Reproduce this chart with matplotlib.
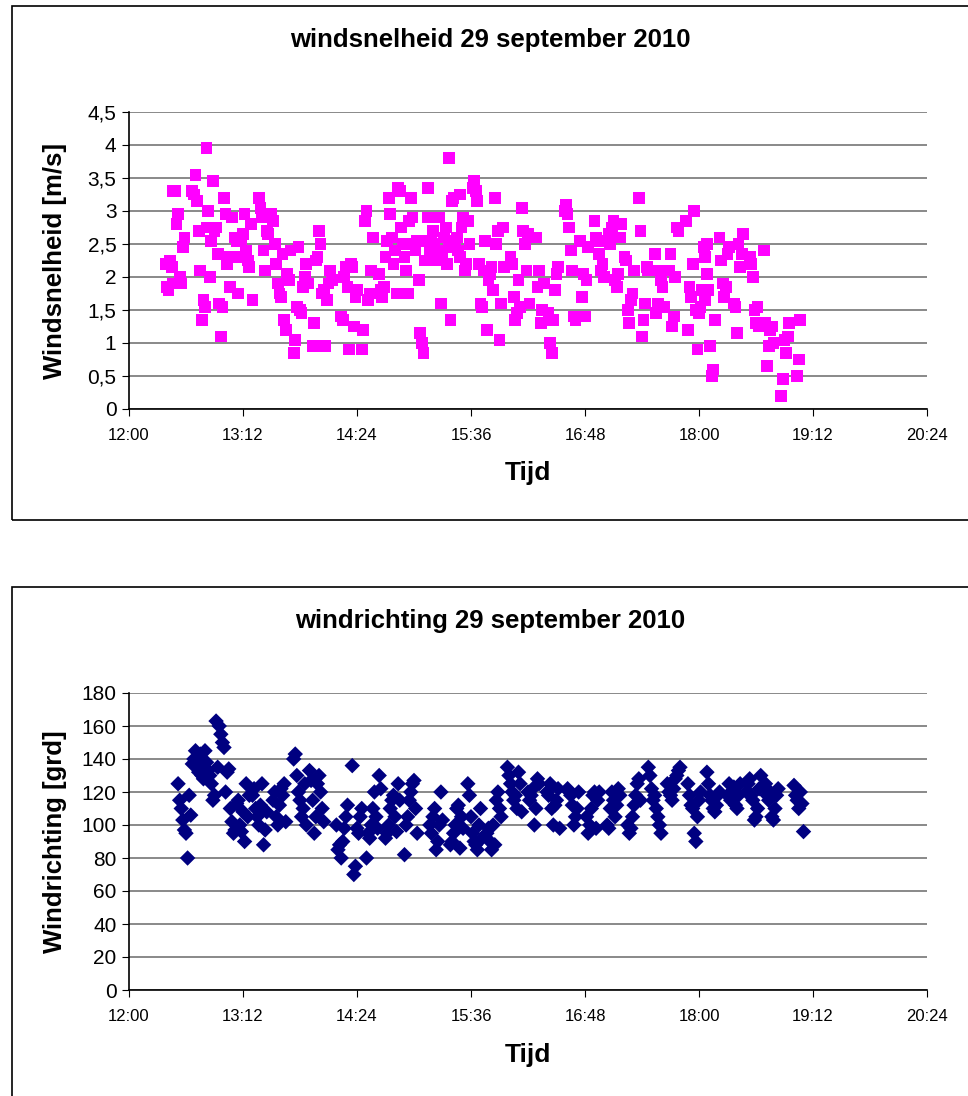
"""
Windsnelheid en windrichting op 29 september 2010 (twee Excel-achtige spreidingsgrafieken).
"""
import matplotlib
matplotlib.use('Agg')
import matplotlib.pyplot as plt
from matplotlib.patches import Rectangle

plt.rcParams['font.family'] = ['Liberation Sans', 'DejaVu Sans']

# tijd in minuten na 12:00
speed_min = [
    23, 24, 25, 26, 27, 28,
    28, 29, 30, 31, 32, 33, 34, 35,
    40, 41, 42, 43, 44, 45, 46, 47, 48, 49,
    49, 50, 51, 52,
    53, 54, 55, 56, 57, 58, 59,
    60, 61, 62, 63, 64, 65,
    67, 68, 69, 70, 71, 72,
    73, 74, 75, 76, 77, 78,
    82, 83, 84, 85, 86, 87, 88,
    90, 91, 92, 93, 94, 95, 96, 97,
    98, 99, 100, 101, 102,
    104, 105, 106, 107, 108, 109, 110, 111, 112, 113,
    116, 117, 118, 119, 120, 121, 122, 123,
    124, 125, 126, 127, 128,
    134, 135, 136, 137, 138,
    139, 140, 141, 142, 143, 144,
    147, 148, 149, 150, 151, 152, 153, 154,
    158, 159, 160, 161, 162, 163,
    164, 165, 166, 167, 168, 169,
    170, 171, 172, 173, 174, 175, 176, 177,
    178, 179, 180, 181, 182, 183,
    184, 185, 186, 187, 188, 189,
    189, 190, 191, 192, 193, 194, 195, 196,
    197, 198, 199, 200, 201, 202,
    202, 203, 204, 205, 206, 207, 208, 209,
    209, 210, 211, 212, 213, 214, 215,
    217, 218, 219, 220, 221, 222, 223, 224,
    225, 226, 227, 228, 229, 230,
    231, 232, 233, 234, 235, 236, 237,
    241, 242, 243, 244, 245, 246, 247,
    248, 249, 250, 251, 252, 253,
    257, 258, 259, 260, 261, 262,
    265, 266, 267, 268, 269, 270, 271,
    275, 276, 277, 278, 279, 280, 281, 282,
    285, 286, 287, 288, 289, 290,
    294, 295, 296, 297, 298, 299, 300,
    303, 304, 305, 306, 307, 308, 309, 310, 311,
    313, 314, 315, 316, 317, 318, 319,
    322, 323, 324, 325, 326, 327, 328,
    332, 333, 334, 335, 336, 337, 338,
    341, 342, 343, 344, 345, 346, 347,
    352, 353, 354, 355, 356,
    357, 358, 359, 360, 361, 362, 363, 364, 365,
    364, 365, 366, 367, 368, 369, 370,
    373, 374, 375, 376, 377, 378, 379,
    382, 383, 384, 385, 386, 387, 388,
    392, 393, 394, 395, 396, 397, 398,
    401, 402, 403, 404, 405, 406, 407,
    412, 413, 414, 415, 416, 417,
    422, 423, 424,
]
speed_val = [
    2.2, 1.85, 1.8, 2.25, 2.15, 1.9,
    3.3, 3.3, 2.8, 2.95, 2.0, 1.9, 2.45, 2.6,
    3.3, 3.25, 3.55, 3.15, 2.7, 2.1, 1.35, 1.65, 1.55, 2.75,
    3.95, 3.0, 2.0, 2.55,
    3.45, 2.7, 2.75, 2.35, 1.6, 1.1, 1.55,
    3.2, 2.95, 2.2, 2.3, 1.85, 2.9,
    2.6, 2.55, 1.75, 2.3, 2.55, 2.65,
    2.95, 2.4, 2.25, 2.15, 2.8, 1.65,
    3.2, 3.05, 2.9, 2.4, 2.1, 2.7, 2.65,
    2.95, 2.85, 2.5, 2.2, 1.9, 1.75, 1.7, 2.35,
    1.35, 1.2, 2.05, 1.95, 2.4,
    0.85, 1.05, 1.55, 2.45, 1.5, 1.45, 1.85, 2.0, 2.2, 1.9,
    0.95, 1.3, 2.25, 2.3, 2.7, 2.5, 1.75, 1.8,
    0.95, 1.65, 1.9, 2.1, 1.95,
    1.4, 1.35, 2.0, 2.15, 1.85,
    0.9, 2.2, 2.15, 1.25, 1.7, 1.8,
    0.9, 1.2, 2.85, 3.0, 1.65, 1.75, 2.1, 2.6,
    2.05, 1.8, 1.7, 1.85, 2.3, 2.55,
    3.2, 2.95, 2.6, 2.2, 2.4, 1.75,
    3.35, 3.3, 2.75, 2.5, 2.3, 2.1, 1.75, 2.85,
    3.2, 2.9, 2.5, 2.4, 2.55, 1.95,
    1.15, 1.0, 0.85, 2.25, 2.55, 2.9,
    3.35, 2.4, 2.55, 2.7, 2.5, 2.25, 2.4, 2.9,
    1.6, 2.3, 2.6, 2.75, 2.2, 2.45,
    3.8, 1.35, 3.15, 3.2, 2.55, 2.6, 2.4, 2.3,
    3.25, 2.75, 2.9, 2.1, 2.2, 2.85, 2.5,
    3.35, 3.45, 3.3, 3.15, 2.2, 1.6, 1.55, 2.1,
    2.55, 1.2, 1.95, 2.05, 2.15, 1.8,
    3.2, 2.5, 2.7, 1.05, 1.6, 2.75, 2.15,
    2.3, 2.2, 1.7, 1.35, 1.45, 1.95, 1.55,
    3.05, 2.7, 2.5, 2.1, 2.65, 1.6,
    2.6, 1.85, 2.1, 1.3, 1.5, 1.9,
    1.45, 1.0, 0.85, 1.35, 1.8, 2.05, 2.15,
    3.0, 3.1, 2.95, 2.75, 2.4, 2.1, 1.4, 1.35,
    2.55, 1.7, 2.05, 1.4, 1.95, 2.45,
    2.85, 2.6, 2.55, 2.35, 2.1, 2.2, 2.0,
    2.65, 2.5, 2.75, 2.85, 1.95, 1.85, 2.05, 2.6, 2.8,
    2.3, 2.25, 1.5, 1.3, 1.65, 1.75, 2.1,
    3.2, 2.7, 1.1, 1.35, 1.6, 2.15, 2.1,
    2.35, 1.45, 1.6, 2.1, 1.95, 1.85, 1.55,
    2.1, 2.35, 1.25, 1.4, 2.0, 2.75, 2.7,
    2.85, 1.2, 1.85, 1.7, 2.2,
    3.0, 1.5, 0.9, 1.45, 1.55, 1.8, 2.45, 2.3, 2.5,
    1.65, 2.05, 1.8, 0.95, 0.5, 0.6, 1.35,
    2.6, 2.25, 1.9, 1.7, 1.85, 2.35, 2.45,
    1.6, 1.55, 1.15, 2.5, 2.15, 2.35, 2.65,
    2.3, 2.2, 2.0, 1.5, 1.3, 1.55, 1.25,
    2.4, 1.3, 0.65, 0.95, 1.2, 1.25, 1.0,
    0.2, 0.45, 1.05, 0.85, 1.1, 1.3,
    0.5, 0.75, 1.35,
]

dir_min = [
    31, 32, 33, 34, 35, 36, 37, 38, 39,
    40, 41, 42, 43, 44, 45, 46, 47, 48,
    48, 49, 50, 51, 52, 53, 54, 55, 56,
    57, 58, 59, 60, 61, 62, 63, 64, 65, 66, 67,
    68, 69, 70, 71, 72, 73, 74, 75, 76,
    78, 79, 80, 81, 82, 83, 84, 85, 86, 87,
    91, 92, 93, 94, 95, 96, 97, 98, 99,
    104, 105, 106, 107, 108, 109, 110, 111, 112,
    114, 115, 116, 117, 118, 119, 120, 121, 122, 123,
    131, 132, 133, 134, 135, 136, 137, 138,
    141, 142, 143, 144, 145, 146, 147,
    150, 151, 152, 153, 154, 155, 156, 157, 158, 159,
    162, 163, 164, 165, 166, 167, 168, 169, 170, 171,
    174, 175, 176, 177, 178, 179, 180, 181, 182,
    190, 191, 192, 193, 194, 195, 196, 197, 198,
    203, 204, 205, 206, 207, 208, 209, 210, 211,
    214, 215, 216, 217, 218, 219, 220, 221, 222, 223,
    226, 227, 228, 229, 230, 231, 232, 233, 234, 235,
    239, 240, 241, 242, 243, 244, 245, 246, 247, 248,
    252, 253, 254, 255, 256, 257, 258, 259,
    264, 265, 266, 267, 268, 269, 270, 271, 272,
    277, 278, 279, 280, 281, 282, 283, 284,
    289, 290, 291, 292, 293, 294, 295, 296, 297,
    302, 303, 304, 305, 306, 307, 308, 309, 310,
    315, 316, 317, 318, 319, 320, 321, 322, 323,
    328, 329, 330, 331, 332, 333, 334, 335, 336,
    340, 341, 342, 343, 344, 345, 346, 347, 348,
    353, 354, 355, 356, 357, 358, 359, 360, 361,
    365, 366, 367, 368, 369, 370, 371, 372, 373,
    378, 379, 380, 381, 382, 383, 384, 385, 386,
    390, 391, 392, 393, 394, 395, 396, 397, 398, 399,
    402, 403, 404, 405, 406, 407, 408, 409, 410,
    420, 421, 422, 423, 424, 425, 426,
]
dir_val = [
    125, 115, 110, 103, 97, 95, 80, 118, 106,
    137, 140, 145, 135, 132, 143, 130, 128, 138,
    145, 138, 133, 130, 125, 115, 118, 163, 135,
    160, 155, 150, 147, 120, 132, 134, 110, 102, 95, 97,
    113, 115, 100, 96, 108, 90, 125, 105, 118,
    118, 122, 110, 105, 100, 112, 125, 88, 97, 108,
    115, 120, 105, 100, 112, 122, 118, 125, 102,
    140, 143, 130, 120, 115, 105, 110, 125, 100,
    133, 127, 115, 95, 105, 125, 130, 120, 110, 102,
    100, 85, 88, 80, 90, 98, 105, 112,
    136, 70, 75, 98, 95, 105, 110,
    80, 95, 92, 100, 110, 120, 105, 98, 130, 122,
    92, 95, 100, 110, 115, 118, 105, 96, 125, 115,
    82, 100, 105, 115, 120, 125, 127, 110, 95,
    100, 95, 105, 110, 85, 90, 100, 120, 103,
    88, 90, 95, 100, 110, 112, 86, 105, 98,
    125, 118, 105, 95, 90, 88, 85, 100, 110, 92,
    95, 98, 90, 85, 100, 88, 115, 120, 110, 105,
    135, 130, 125, 120, 115, 118, 110, 132, 125, 108,
    120, 115, 118, 122, 100, 110, 128, 125,
    120, 118, 125, 110, 100, 112, 115, 122, 98,
    122, 120, 118, 112, 100, 105, 110, 120,
    105, 95, 100, 110, 118, 120, 98, 115, 120,
    100, 98, 110, 120, 115, 105, 112, 122, 118,
    100, 95, 98, 105, 112, 118, 125, 128, 115,
    135, 130, 122, 115, 118, 110, 105, 100, 95,
    125, 120, 118, 115, 122, 128, 130, 133, 135,
    125, 118, 112, 110, 95, 90, 105, 115, 120,
    132, 125, 118, 115, 110, 108, 112, 118, 120,
    118, 125, 115, 120, 123, 112, 110, 118, 125,
    120, 125, 128, 118, 115, 103, 105, 110, 122, 130,
    125, 118, 115, 120, 105, 103, 110, 118, 122,
    124, 118, 115, 110, 120, 113, 96,
]

x_ticks = [0, 72, 144, 216, 288, 360, 432, 504]
x_labels = ['12:00', '13:12', '14:24', '15:36', '16:48', '18:00', '19:12', '20:24']
speed_ticks = [0, 0.5, 1, 1.5, 2, 2.5, 3, 3.5, 4, 4.5]
speed_labels = ['0', '0,5', '1', '1,5', '2', '2,5', '3', '3,5', '4', '4,5']
dir_ticks = [0, 20, 40, 60, 80, 100, 120, 140, 160, 180]

W, H = 968, 1096


def px_box(x0, y0, x1, y1):
    return [x0 / W, 1 - y1 / H, (x1 - x0) / W, (y1 - y0) / H]


def style_axes(ax, yticks, ylabels):
    ax.set_xlim(0, 504)
    ax.set_ylim(yticks[0], yticks[-1])
    ax.set_xticks(x_ticks)
    ax.set_xticklabels(x_labels, fontsize=12)
    ax.set_yticks(yticks)
    ax.set_yticklabels(ylabels, fontsize=15)
    ax.grid(axis='y', color='#808080', linewidth=1.3)
    ax.set_axisbelow(True)
    for side in ('top', 'right'):
        ax.spines[side].set_visible(False)
    for side in ('left', 'bottom'):
        ax.spines[side].set_color('#000000')
        ax.spines[side].set_linewidth(1.2)
    ax.tick_params(axis='x', direction='out', length=5, pad=9)
    ax.tick_params(axis='y', direction='out', length=5, pad=4)


fig = plt.figure(figsize=(W / 100, H / 100), dpi=100)

# kaderranden van de twee grafieken
fig.patches.append(Rectangle((12 / W, 1 - 520 / H), 1.0, 514 / H, transform=fig.transFigure,
                             fill=False, edgecolor='black', linewidth=1.2))
fig.patches.append(Rectangle((12 / W, -0.01), 1.0, (1096 - 587) / H + 0.01, transform=fig.transFigure,
                             fill=False, edgecolor='black', linewidth=1.2))

ax1 = fig.add_axes(px_box(129, 112, 927, 409))
ax1.scatter(speed_min, speed_val, marker='s', s=72, color='#FF00FF', edgecolors='none', zorder=3)
style_axes(ax1, speed_ticks, speed_labels)

ax2 = fig.add_axes(px_box(129, 693, 927, 990))
ax2.scatter(dir_min, dir_val, marker='D', s=62, color='#000080', edgecolors='none', zorder=3)
style_axes(ax2, dir_ticks, [str(v) for v in dir_ticks])

fig.text(490 / W, 1 - 40 / H, 'windsnelheid 29 september 2010', ha='center', va='center',
         fontsize=18.5, fontweight='bold')
fig.text(528 / W, 1 - 473 / H, 'Tijd', ha='center', va='center', fontsize=19, fontweight='bold')
fig.text(55 / W, 1 - 261 / H, 'Windsnelheid [m/s]', ha='center', va='center', rotation=90,
         fontsize=18.5, fontweight='bold')

fig.text(490 / W, 1 - 621 / H, 'windrichting 29 september 2010', ha='center', va='center',
         fontsize=18.5, fontweight='bold')
fig.text(528 / W, 1 - 1055 / H, 'Tijd', ha='center', va='center', fontsize=19, fontweight='bold')
fig.text(55 / W, 1 - 842 / H, 'Windrichting [grd]', ha='center', va='center', rotation=90,
         fontsize=18.5, fontweight='bold')

fig.savefig('out.png', dpi=100)
plt.close(fig)
